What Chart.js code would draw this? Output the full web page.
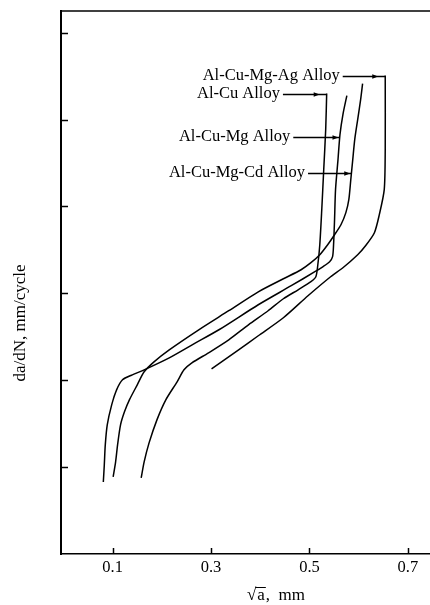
<!DOCTYPE html>
<html>
<head>
<meta charset="utf-8">
<script src="https://cdn.jsdelivr.net/npm/chart.js@4.4.0/dist/chart.umd.min.js"></script>
<style>
  html, body { margin: 0; padding: 0; background: #fff; }
  canvas { display: block; }
</style>
</head>
<body>
<canvas id="chart" width="430" height="605"></canvas>
<script>
// sqrt(a) [mm] on x, da/dN (decades, unlabelled) on y
const alCuX = [0.535, 0.533, 0.529, 0.525, 0.521, 0.517, 0.513, 0.503, 0.477, 0.447, 0.416, 0.376, 0.336, 0.295, 0.261, 0.245, 0.231, 0.208, 0.190, 0.174, 0.164, 0.158];
const alCuY = [5.30, 4.885, 4.424, 3.963, 3.560, 3.329, 3.191, 3.134, 3.041, 2.938, 2.800, 2.638, 2.465, 2.316, 2.200, 2.120, 1.982, 1.774, 1.544, 1.279, 1.060, 0.876];

const alCuMgX = [0.576, 0.568, 0.562, 0.558, 0.553, 0.551, 0.549, 0.547, 0.541, 0.527, 0.511, 0.463, 0.396, 0.316, 0.265, 0.215, 0.164, 0.140, 0.120, 0.108, 0.098, 0.089, 0.085, 0.083, 0.081];
const alCuMgY = [5.276, 5.058, 4.827, 4.539, 4.194, 3.848, 3.560, 3.422, 3.364, 3.306, 3.249, 3.088, 2.869, 2.581, 2.419, 2.258, 2.120, 2.062, 2.005, 1.889, 1.717, 1.486, 1.256, 1.025, 0.829];

const alCuMgCdX = [0.608, 0.604, 0.598, 0.592, 0.588, 0.584, 0.580, 0.574, 0.564, 0.551, 0.537, 0.521, 0.503, 0.483, 0.447, 0.396, 0.336, 0.275, 0.215, 0.184, 0.164, 0.150, 0.134, 0.124, 0.116, 0.110, 0.106, 0.101];
const alCuMgCdY = [5.415, 5.230, 5.000, 4.770, 4.539, 4.309, 4.078, 3.929, 3.790, 3.675, 3.560, 3.445, 3.353, 3.272, 3.168, 3.018, 2.800, 2.581, 2.350, 2.212, 2.097, 1.947, 1.774, 1.636, 1.486, 1.256, 1.060, 0.887];

const alCuMgAgX = [0.654, 0.654, 0.652, 0.642, 0.632, 0.614, 0.598, 0.568, 0.543, 0.497, 0.447, 0.396, 0.356, 0.301];
const alCuMgAgY = [5.507, 4.654, 4.194, 3.906, 3.698, 3.548, 3.445, 3.295, 3.191, 2.972, 2.719, 2.512, 2.350, 2.131];

const seriesNames = ['Al-Cu Alloy', 'Al-Cu-Mg Alloy', 'Al-Cu-Mg-Cd Alloy', 'Al-Cu-Mg-Ag Alloy'];
// leader lines: height, where the text ends, where the line meets the curve
const labelY = [5.30, 4.804, 4.389, 5.507];
const labelTextEndX = [0.440, 0.461, 0.491, 0.5615];
const labelLineEndX = [0.535, 0.561, 0.585, 0.654];

const xTicks = [0.1, 0.3, 0.5, 0.7];
const yTicks = [1, 2, 3, 4, 5, 6];

const serif = '"Liberation Serif", "Times New Roman", serif';
const ink = '#000';

function toPoints(xs, ys) {
    return xs.map((x, i) => ({ x: x, y: ys[i] }));
}

const seriesData = [
    toPoints(alCuX, alCuY),
    toPoints(alCuMgX, alCuMgY),
    toPoints(alCuMgCdX, alCuMgCdY),
    toPoints(alCuMgAgX, alCuMgAgY)
];

// Inward ticks, top frame line, axis titles and the labelled leaders
const framePlugin = {
    id: 'frame',
    afterDraw(chart) {
        const ctx = chart.ctx;
        const x = chart.scales.x;
        const y = chart.scales.y;
        const area = chart.chartArea;

        ctx.save();
        ctx.strokeStyle = ink;
        ctx.fillStyle = ink;

        // top border
        ctx.lineWidth = 1.5;
        ctx.beginPath();
        ctx.moveTo(area.left, area.top);
        ctx.lineTo(area.right, area.top);
        ctx.stroke();

        // y ticks point into the plot
        yTicks.forEach(v => {
            const py = Math.round(y.getPixelForValue(v)) + 0.5;
            ctx.beginPath();
            ctx.moveTo(area.left, py);
            ctx.lineTo(area.left + 7, py);
            ctx.stroke();
        });

        // x ticks point up
        xTicks.forEach(v => {
            const px = Math.round(x.getPixelForValue(v)) + 0.5;
            ctx.beginPath();
            ctx.moveTo(px, area.bottom);
            ctx.lineTo(px, area.bottom - 6);
            ctx.stroke();
        });

        // y title
        ctx.font = '17px ' + serif;
        ctx.textAlign = 'center';
        ctx.textBaseline = 'middle';
        ctx.save();
        ctx.translate(21, 323);
        ctx.rotate(-Math.PI / 2);
        ctx.fillText('da/dN, mm/cycle', 0, 0);
        ctx.restore();

        // x title: sqrt(a), mm with the bar over the a
        ctx.font = '17px ' + serif;
        ctx.textAlign = 'left';
        ctx.textBaseline = 'alphabetic';
        const root = '\u221A';
        const rest = ',  mm';
        const wRoot = ctx.measureText(root).width;
        const wA = ctx.measureText('a').width;
        const wRest = ctx.measureText(rest).width;
        const tx = 276 - (wRoot + wA + 2 + wRest) / 2;
        const base = 600;
        ctx.fillText(root, tx, base);
        ctx.fillText('a', tx + wRoot + 1, base);
        ctx.lineWidth = 1;
        ctx.beginPath();
        ctx.moveTo(tx + wRoot - 1, base - 12.5);
        ctx.lineTo(tx + wRoot + wA + 2, base - 12.5);
        ctx.stroke();
        ctx.fillText(rest, tx + wRoot + wA + 2, base);

        // labels with leader lines and small arrowheads
        ctx.font = '16.5px ' + serif;
        ctx.textAlign = 'right';
        ctx.textBaseline = 'middle';
        seriesNames.forEach((name, i) => {
            const py = Math.round(y.getPixelForValue(labelY[i])) + 0.5;
            const xt = x.getPixelForValue(labelTextEndX[i]);
            const xe = x.getPixelForValue(labelLineEndX[i]);
            ctx.fillText(name, xt, py - 1);

            ctx.lineWidth = 1.4;
            ctx.beginPath();
            ctx.moveTo(xt + 3, py);
            ctx.lineTo(xe, py);
            ctx.stroke();

            // leader joins the top of the curve for two of them: arrow sits a little before
            const first = seriesData[i][0];
            const joinsTop = Math.abs(first.y - labelY[i]) < 0.02;
            const tip = joinsTop ? xe - 7 : xe - 1;
            ctx.beginPath();
            ctx.moveTo(tip, py);
            ctx.lineTo(tip - 6, py - 2.2);
            ctx.lineTo(tip - 6, py + 2.2);
            ctx.closePath();
            ctx.fill();
        });

        ctx.restore();
    }
};

new Chart(document.getElementById('chart'), {
    type: 'scatter',
    data: {
        datasets: seriesData.map((pts, i) => ({
            label: seriesNames[i],
            data: pts,
            showLine: true,
            borderColor: ink,
            borderWidth: 1.5,
            pointRadius: 0,
            tension: 0.25,
            fill: false
        }))
    },
    options: {
        responsive: false,
        animation: false,
        layout: {
            padding: { top: 11, right: 0, left: 0, bottom: 0 }
        },
        scales: {
            x: {
                type: 'linear',
                min: -0.005,
                max: 0.745,
                afterBuildTicks(scale) {
                    scale.ticks = xTicks.map(v => ({ value: v }));
                },
                afterFit(scale) {
                    scale.height = 51;
                },
                ticks: {
                    padding: 4,
                    color: ink,
                    font: { family: serif, size: 16.5 },
                    maxRotation: 0,
                    callback: v => v.toFixed(1)
                },
                grid: { display: false, drawTicks: false },
                border: { display: true, color: ink, width: 1.5 }
            },
            y: {
                type: 'linear',
                min: 0,
                max: 6.25,
                afterBuildTicks(scale) {
                    scale.ticks = yTicks.map(v => ({ value: v }));
                },
                afterFit(scale) {
                    scale.width = 61;
                },
                ticks: { display: false },
                grid: { display: false, drawTicks: false },
                border: { display: true, color: ink, width: 2 }
            }
        },
        plugins: {
            legend: { display: false },
            tooltip: { enabled: false }
        }
    },
    plugins: [framePlugin]
});
</script>
</body>
</html>
